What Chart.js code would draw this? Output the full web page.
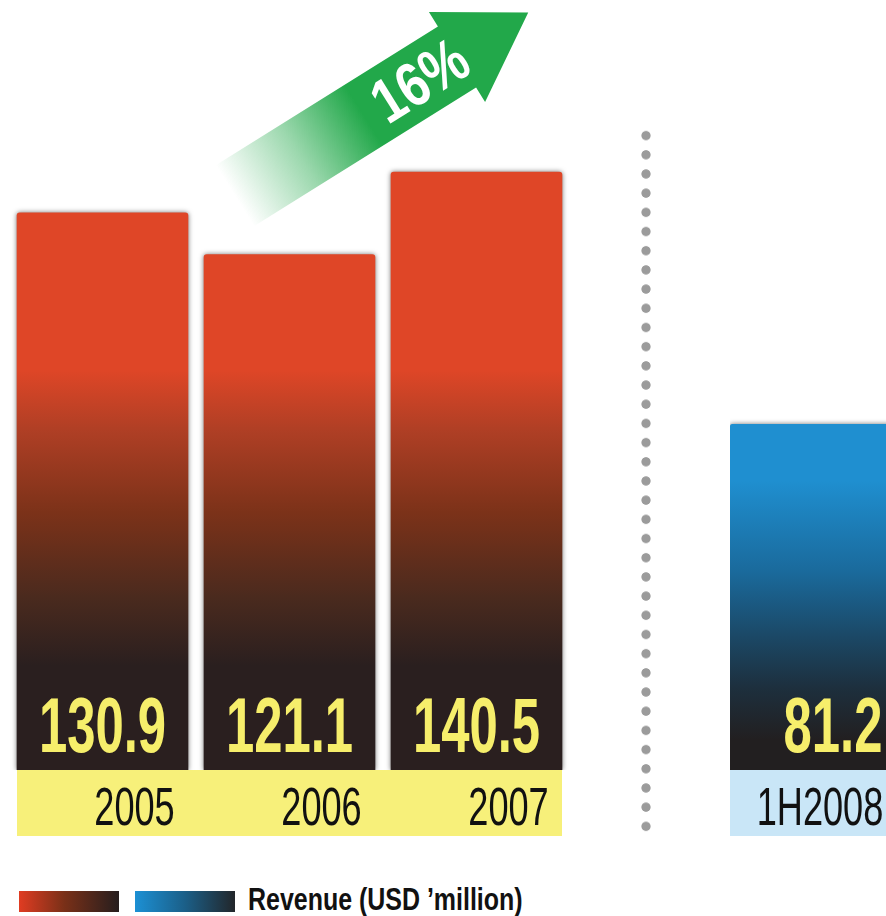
<!DOCTYPE html>
<html>
<head>
<meta charset="utf-8">
<script src="https://cdn.jsdelivr.net/npm/chart.js@4.4.0/dist/chart.umd.min.js"></script>
<style>
  html, body { margin: 0; padding: 0; background: #fff; }
  body { width: 886px; height: 916px; overflow: hidden; position: relative; font-family: 'Liberation Sans', Arial, sans-serif; }
  #leftChart { position: absolute; left: 0; top: 0; }
  #rightChart { position: absolute; left: 700px; top: 0; }
  #divider {
    position: absolute; left: 641px; top: 126px; width: 10px; height: 711px;
    background: radial-gradient(circle, #9b9b9b 4.2px, rgba(155,155,155,0) 5px) 0 0 / 10px 19.2px repeat-y;
  }
  .sw { position: absolute; top: 891px; width: 100px; height: 21px; }
  #swRed { left: 19px; background: linear-gradient(to right, #e03c22, #7a3018 45%, #261e1e); }
  #swBlue { left: 135px; background: linear-gradient(to right, #1c90d4, #1b5f88 50%, #22262a); }
  #legendText {
    position: absolute; left: 248px; top: 881px; font-weight: bold; font-size: 32px; color: #111;
    white-space: nowrap; transform: scaleX(0.78); transform-origin: left top;
  }
</style>
</head>
<body>
<canvas id="leftChart" width="600" height="850"></canvas>
<canvas id="rightChart" width="300" height="850"></canvas>
<div id="divider"></div>
<div class="sw" id="swRed"></div>
<div class="sw" id="swBlue"></div>
<div id="legendText">Revenue (USD ’million)</div>

<script>
// data
const years = ['2005', '2006', '2007'];
const revenue = [130.9, 121.1, 140.5];
const halfYear = ['1H2008'];
const halfRevenue = [81.2];
const growthText = '16%';
const yMax = 180;

const FONT = '"Liberation Sans", Arial, sans-serif';

// draw condensed text (the original uses a narrow face)
function narrowText(ctx, text, x, y, font, color, squeeze) {
  ctx.save();
  ctx.font = font;
  ctx.fillStyle = color;
  ctx.textAlign = 'center';
  ctx.textBaseline = 'alphabetic';
  ctx.translate(x, y);
  ctx.scale(squeeze, 1);
  ctx.fillText(text, 0, 0);
  ctx.restore();
}

// gradient fixed to the value axis, so all bars fade at the same height
function barGradient(stops, fromVal, toVal) {
  return function (context) {
    const chart = context.chart;
    if (!chart.chartArea) return stops[0][1];
    const y = chart.scales.y;
    const g = chart.ctx.createLinearGradient(0, y.getPixelForValue(fromVal), 0, y.getPixelForValue(toVal));
    stops.forEach(s => g.addColorStop(s[0], s[1]));
    return g;
  };
}

const redStops = [[0, '#df4627'], [0.2, '#b03f25'], [0.48, '#7c3219'], [0.77, '#4a2a1e'], [1, '#2a1f1f']];
const blueStops = [[0, '#1f8fd0'], [0.35, '#1a6a9c'], [0.6, '#1b4866'], [0.8, '#1d2f3d'], [1, '#221f20']];

function decorPlugin(bandColor, labelShift) {
  return {
    id: 'decor',
    beforeDatasetsDraw(chart) {
      const ctx = chart.ctx;
      ctx.save();
      ctx.shadowColor = 'rgba(0,0,0,0.55)';
      ctx.shadowBlur = 5;
    },
    afterDatasetsDraw(chart) {
      const ctx = chart.ctx;
      ctx.restore();
      const area = chart.chartArea;
      const bars = chart.getDatasetMeta(0).data;
      const first = bars[0], last = bars[bars.length - 1];
      const x0 = first.x - first.width / 2;
      const x1 = last.x + last.width / 2;
      ctx.fillStyle = bandColor;
      ctx.fillRect(x0, area.bottom, x1 - x0, 66);
      const vals = chart.data.datasets[0].data;
      bars.forEach((bar, i) => {
        narrowText(ctx, vals[i].toFixed(1), bar.x, area.bottom - 18, 'bold 77px ' + FONT, '#f6ee6b', 0.66);
        narrowText(ctx, chart.data.labels[i], bar.x + labelShift, area.bottom + 55, '54px ' + FONT, '#111', 0.67);
      });
    }
  };
}

// growth arrow between the bars
const arrowPlugin = {
  id: 'arrow',
  afterDraw(chart) {
    const ctx = chart.ctx;
    const ang = 32 * Math.PI / 180;
    ctx.save();
    ctx.translate(457, 57);
    ctx.rotate(-ang);
    const L = 262, w = 72, hw = 106, hl = 84;
    const g = ctx.createLinearGradient(-L, 0, -110, 0);
    g.addColorStop(0, 'rgba(34,168,74,0)');
    g.addColorStop(0.5, 'rgba(34,168,74,0.45)');
    g.addColorStop(1, 'rgba(34,168,74,1)');
    ctx.fillStyle = g;
    ctx.beginPath();
    ctx.moveTo(-L, -w / 2);
    ctx.lineTo(0, -w / 2);
    ctx.lineTo(0, -hw / 2);
    ctx.lineTo(hl, 0);
    ctx.lineTo(0, hw / 2);
    ctx.lineTo(0, w / 2);
    ctx.lineTo(-L, w / 2);
    ctx.closePath();
    ctx.fill();
    ctx.fillStyle = '#fff';
    ctx.font = 'bold 62px ' + FONT;
    ctx.textAlign = 'center';
    ctx.textBaseline = 'middle';
    ctx.translate(-44, 4);
    ctx.scale(0.82, 1);
    ctx.fillText(growthText, 0, 0);
    ctx.restore();
  }
};

function baseOptions(pad) {
  return {
    responsive: false,
    animation: false,
    layout: { padding: pad },
    scales: {
      x: { display: false },
      y: { display: false, min: 0, max: yMax }
    },
    plugins: { legend: { display: false }, tooltip: { enabled: false } }
  };
}

new Chart(document.getElementById('leftChart'), {
  type: 'bar',
  data: {
    labels: years,
    datasets: [{
      data: revenue,
      backgroundColor: barGradient(redStops, 94, 24.5),
      borderRadius: 3,
      barThickness: 171
    }]
  },
  options: baseOptions({ top: 4, bottom: 80, left: 9, right: 30 }),
  plugins: [decorPlugin('#f7f07a', 32), arrowPlugin]
});

new Chart(document.getElementById('rightChart'), {
  type: 'bar',
  data: {
    labels: halfYear,
    datasets: [{
      data: halfRevenue,
      backgroundColor: barGradient(blueStops, 68, 7),
      borderRadius: 3,
      barThickness: 206
    }]
  },
  options: baseOptions({ top: 4, bottom: 80, left: 30, right: 64 }),
  plugins: [decorPlugin('#c9e6f7', -13)]
});
</script>
</body>
</html>
